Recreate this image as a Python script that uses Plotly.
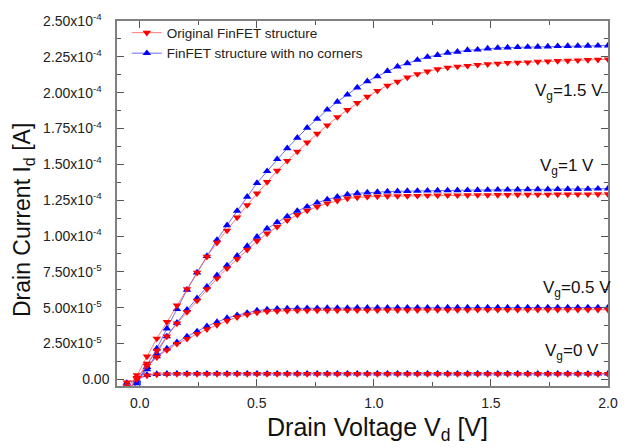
import plotly.graph_objects as go

# Drain voltage points (V)
vd = [-0.055, -0.012, 0.031, 0.073, 0.116, 0.159, 0.202, 0.245, 0.287, 0.330,
      0.373, 0.416, 0.459, 0.501, 0.544, 0.587, 0.630, 0.673, 0.715, 0.758,
      0.801, 0.844, 0.887, 0.929, 0.972, 1.015, 1.058, 1.101, 1.143, 1.186,
      1.229, 1.272, 1.315, 1.357, 1.400, 1.443, 1.486, 1.529, 1.571, 1.614,
      1.657, 1.700, 1.743, 1.785, 1.828, 1.871, 1.914, 1.957, 2.000]

# Currents in units of 1e-4 A
orig_vg15 = [-0.110, 0.029, 0.160, 0.285, 0.401, 0.516, 0.630, 0.744, 0.856, 0.954,
             1.038, 1.130, 1.216, 1.297, 1.377, 1.456, 1.525, 1.589, 1.653, 1.714,
             1.772, 1.830, 1.880, 1.928, 1.972, 2.013, 2.050, 2.077, 2.106, 2.130,
             2.148, 2.164, 2.175, 2.182, 2.187, 2.194, 2.199, 2.203, 2.208, 2.210,
             2.212, 2.216, 2.219, 2.221, 2.223, 2.226, 2.228, 2.230, 2.233]
nocorner_vg15 = [-0.150, -0.027, 0.086, 0.215, 0.355, 0.490, 0.625, 0.745, 0.860, 0.973,
                 1.075, 1.175, 1.274, 1.370, 1.452, 1.536, 1.612, 1.685, 1.755, 1.817,
                 1.881, 1.936, 1.986, 2.036, 2.079, 2.113, 2.151, 2.182, 2.205, 2.228,
                 2.249, 2.262, 2.278, 2.285, 2.297, 2.300, 2.308, 2.312, 2.315, 2.317,
                 2.319, 2.320, 2.322, 2.324, 2.325, 2.326, 2.327, 2.328, 2.329]
orig_vg10 = [-0.090, 0.010, 0.110, 0.200, 0.300, 0.390, 0.470, 0.550, 0.630, 0.705,
             0.775, 0.840, 0.905, 0.966, 1.018, 1.064, 1.110, 1.148, 1.178, 1.205,
             1.228, 1.247, 1.262, 1.269, 1.274, 1.276, 1.278, 1.279, 1.280, 1.281,
             1.282, 1.283, 1.284, 1.284, 1.285, 1.286, 1.286, 1.287, 1.287, 1.288,
             1.288, 1.289, 1.289, 1.290, 1.290, 1.291, 1.291, 1.292, 1.292]
nocorner_vg10 = [-0.120, -0.020, 0.070, 0.180, 0.300, 0.395, 0.486, 0.566, 0.646, 0.726,
                 0.795, 0.862, 0.930, 0.995, 1.052, 1.096, 1.137, 1.175, 1.205, 1.233,
                 1.255, 1.274, 1.289, 1.298, 1.303, 1.307, 1.310, 1.312, 1.314, 1.315,
                 1.316, 1.317, 1.318, 1.319, 1.320, 1.321, 1.322, 1.323, 1.323, 1.324,
                 1.325, 1.326, 1.326, 1.327, 1.328, 1.328, 1.329, 1.330, 1.331]
orig_vg05 = [-0.050, 0.010, 0.095, 0.155, 0.205, 0.248, 0.283, 0.318, 0.350, 0.380,
             0.410, 0.434, 0.452, 0.466, 0.474, 0.477, 0.479, 0.480, 0.480, 0.481,
             0.481, 0.481, 0.482, 0.482, 0.482, 0.482, 0.483, 0.483, 0.483, 0.483,
             0.484, 0.484, 0.484, 0.484, 0.484, 0.485, 0.485, 0.485, 0.485, 0.485,
             0.485, 0.486, 0.486, 0.486, 0.486, 0.486, 0.486, 0.486, 0.486]
nocorner_vg05 = [-0.080, -0.010, 0.085, 0.160, 0.215, 0.260, 0.300, 0.335, 0.370, 0.400,
                 0.428, 0.448, 0.464, 0.480, 0.487, 0.492, 0.494, 0.496, 0.497, 0.497,
                 0.498, 0.498, 0.498, 0.499, 0.499, 0.499, 0.499, 0.500, 0.500, 0.500,
                 0.500, 0.500, 0.501, 0.501, 0.501, 0.501, 0.501, 0.501, 0.501, 0.502,
                 0.502, 0.502, 0.502, 0.502, 0.502, 0.502, 0.502, 0.502, 0.502]
orig_vg00 = [-0.020, 0.002, 0.028, 0.035, 0.037, 0.038, 0.038, 0.038, 0.038, 0.038,
             0.038, 0.038, 0.038, 0.038, 0.038, 0.038, 0.038, 0.038, 0.038, 0.038,
             0.038, 0.038, 0.038, 0.038, 0.038, 0.038, 0.038, 0.038, 0.038, 0.038,
             0.038, 0.038, 0.038, 0.038, 0.038, 0.038, 0.038, 0.038, 0.038, 0.038,
             0.038, 0.038, 0.038, 0.038, 0.038, 0.038, 0.038, 0.038, 0.038]
nocorner_vg00 = [-0.025, -0.003, 0.030, 0.037, 0.039, 0.040, 0.040, 0.040, 0.040, 0.040,
                 0.040, 0.040, 0.040, 0.040, 0.040, 0.040, 0.040, 0.040, 0.040, 0.040,
                 0.040, 0.040, 0.040, 0.040, 0.040, 0.040, 0.040, 0.040, 0.040, 0.040,
                 0.040, 0.040, 0.040, 0.040, 0.040, 0.040, 0.040, 0.040, 0.040, 0.040,
                 0.040, 0.040, 0.040, 0.040, 0.040, 0.040, 0.040, 0.040, 0.040]

series_names = ["Original FinFET structure", "FinFET structure with no corners"]
gate_labels = ["V<sub>g</sub>=1.5 V", "V<sub>g</sub>=1 V", "V<sub>g</sub>=0.5 V", "V<sub>g</sub>=0 V"]
label_x = [1.835, 1.823, 1.866, 1.846]
label_y = [2.005e-4, 1.483e-4, 0.629e-4, 0.190e-4]

xtick_vals = [0, 0.5, 1.0, 1.5, 2.0]
xtick_text = ["0.0", "0.5", "1.0", "1.5", "2.0"]
ytick_vals = [0, 0.25e-4, 0.5e-4, 0.75e-4, 1.0e-4, 1.25e-4, 1.5e-4, 1.75e-4, 2.0e-4, 2.25e-4, 2.5e-4]
ytick_text = ["0.00", "2.50x10<sup>-5</sup>", "5.00x10<sup>-5</sup>", "7.50x10<sup>-5</sup>",
              "1.00x10<sup>-4</sup>", "1.25x10<sup>-4</sup>", "1.50x10<sup>-4</sup>",
              "1.75x10<sup>-4</sup>", "2.00x10<sup>-4</sup>", "2.25x10<sup>-4</sup>",
              "2.50x10<sup>-4</sup>"]
x_title = "Drain Voltage V<sub>d</sub> [V]"
y_title = "Drain Current I<sub>d</sub> [A]"

FONT = "Liberation Sans, Arial"
scale = 1e-4
fig = go.Figure()

blue_sets = [nocorner_vg15, nocorner_vg10, nocorner_vg05, nocorner_vg00]
red_sets = [orig_vg15, orig_vg10, orig_vg05, orig_vg00]

for k, ys in enumerate(blue_sets):
    fig.add_trace(go.Scatter(
        x=vd, y=[v * scale for v in ys], mode="lines+markers",
        name=series_names[1], legendgroup="b", showlegend=(k == 0), legendrank=2,
        line=dict(color="rgba(60,60,255,0.75)", width=1),
        marker=dict(symbol="triangle-up", size=7.5, color="#0000FF", line=dict(width=0))))
for k, ys in enumerate(red_sets):
    fig.add_trace(go.Scatter(
        x=vd, y=[v * scale for v in ys], mode="lines+markers",
        name=series_names[0], legendgroup="r", showlegend=(k == 0), legendrank=1,
        line=dict(color="rgba(255,80,80,0.75)", width=1),
        marker=dict(symbol="triangle-down", size=7.5, color="#FF0000", line=dict(width=0))))

for t, x, y in zip(gate_labels, label_x, label_y):
    fig.add_annotation(x=x, y=y, xref="x", yref="y", text=t, showarrow=False,
                       xanchor="center", yanchor="middle",
                       font=dict(family=FONT, size=17, color="#111"))

# axis titles as free annotations (positioned like the reference)
fig.add_annotation(x=0.531, y=-0.117, xref="paper", yref="paper", text=x_title,
                   showarrow=False, xanchor="center", yanchor="middle",
                   font=dict(family=FONT, size=25, color="#111"))
fig.add_annotation(x=-0.19, y=0.454, xref="paper", yref="paper", text=y_title,
                   showarrow=False, textangle=-90, xanchor="center", yanchor="middle",
                   font=dict(family=FONT, size=23, color="#111"))

axis_common = dict(showgrid=False, zeroline=False, showline=True, linecolor="#808080",
                   linewidth=1.5, mirror="ticks", ticks="inside", ticklen=7, tickwidth=1,
                   tickcolor="#555",
                   tickfont=dict(family=FONT, size=14, color="#222"))

fig.update_xaxes(range=[-0.097, 2.0], tickvals=xtick_vals, ticktext=xtick_text,
                 ticklabelstandoff=3,
                 minor=dict(ticks="inside", ticklen=4, tickvals=[0.25, 0.75, 1.25, 1.75], tickcolor="#555"),
                 **axis_common)
fig.update_yaxes(range=[-4.6e-6, 2.5e-4], tickvals=ytick_vals,
                 ticktext=[t if t == "0.00" else t + "&#160;&#160;" for t in ytick_text],
                 ticklabelstandoff=3,
                 minor=dict(ticks="inside", ticklen=4,
                            tickvals=[1.25e-5 + 2.5e-5 * i for i in range(10)], tickcolor="#555"),
                 **axis_common)

fig.update_layout(
    width=629, height=448, margin=dict(l=117, r=11, t=14, b=62),
    paper_bgcolor="white", plot_bgcolor="white",
    legend=dict(x=0.02, y=1.01, xanchor="left", yanchor="top", bgcolor="rgba(0,0,0,0)",
                font=dict(family=FONT, size=13.5, color="#222"),
                tracegroupgap=0, itemwidth=30),
)

fig.write_html("out.html")
